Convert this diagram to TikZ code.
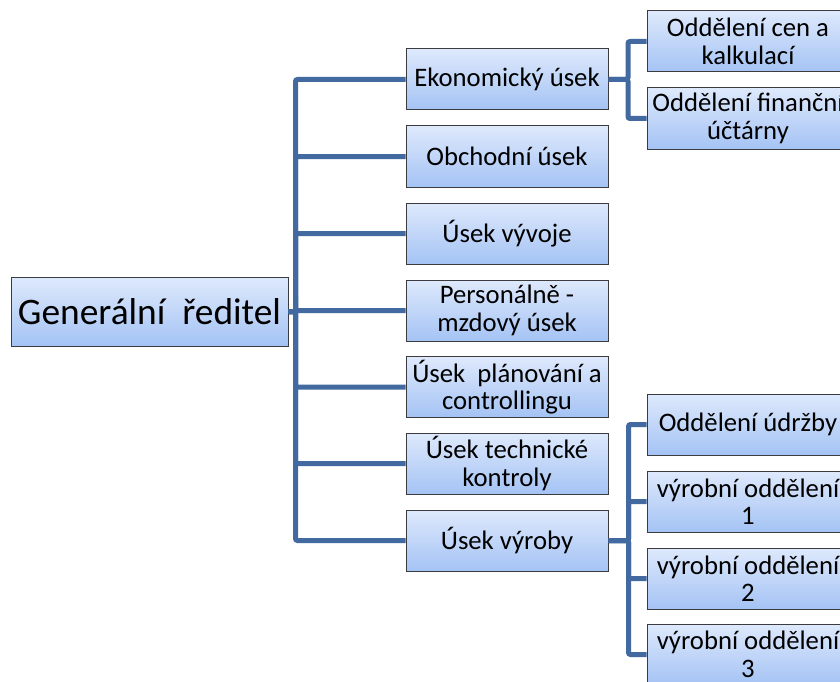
\documentclass[tikz,border=0pt]{standalone}
\usepackage{fontspec}
\setmainfont{Carlito}
\definecolor{linecol}{RGB}{66,106,160}
\definecolor{boxtop}{RGB}{222,233,252}
\definecolor{boxbot}{RGB}{164,195,244}
\definecolor{boxedge}{RGB}{60,60,64}
\begin{document}
\begin{tikzpicture}[x=1pt,y=-1pt,
  box/.style={draw=boxedge, line width=1pt, top color=boxtop, bottom color=boxbot,
    minimum width=202pt, minimum height=61pt, inner sep=0pt, align=center,
    font=\fontsize{26.7}{27.5}\selectfont},
  rootbox/.style={box, minimum width=277pt, minimum height=69pt,
    font=\fontsize{37.4}{40}\selectfont},
  conn/.style={draw=linecol, line width=5pt, rounded corners=2pt}]
\useasboundingbox (0,0) rectangle (840,682);
\clip (0,0) rectangle (840,682);
% root
\node[rootbox] (root) at (149.5,311.5) {Generální\ \ ředitel};
% middle level
\node[box] (m1) at (507,79.5) {Ekonomický úsek};
\node[box] (m2) at (507,156.5) {Obchodní úsek};
\node[box] (m3) at (507,233.5) {Úsek vývoje};
\node[box] (m4) at (507,310.5) {Personálně -\\mzdový úsek};
\node[box] (m5) at (507,387) {Úsek\ \ plánování a\\controllingu};
\node[box] (m6) at (507,463.5) {Úsek technické\\kontroly};
\node[box] (m7) at (507,540.5) {Úsek výroby};
% right level
\node[box] (r1) at (748,41.5) {Oddělení cen a\\kalkulací};
\node[box] (r2) at (748,118.5) {Oddělení finanční\\účtárny};
\node[box] (r3) at (748,424.5) {Oddělení údržby};
\node[box] (r4) at (748,501.5) {výrobní oddělení\\1};
\node[box] (r5) at (748,578.5) {výrobní oddělení\\2};
\node[box] (r6) at (748,654.5) {výrobní oddělení\\3};
% connectors
\coordinate (t0) at ([xshift=7pt]root.east);
\foreach \m in {m1,m2,m3,m4,m5,m6,m7}
  \draw[conn] (root.east) -- (t0) |- (\m.west);
\coordinate (t1) at ([xshift=19.5pt]m1.east);
\foreach \r in {r1,r2}
  \draw[conn] (m1.east) -- (t1) |- (\r.west);
\coordinate (t7) at ([xshift=20pt]m7.east);
\foreach \r in {r3,r4,r5,r6}
  \draw[conn] (m7.east) -- (t7) |- (\r.west);
\end{tikzpicture}
\end{document}
